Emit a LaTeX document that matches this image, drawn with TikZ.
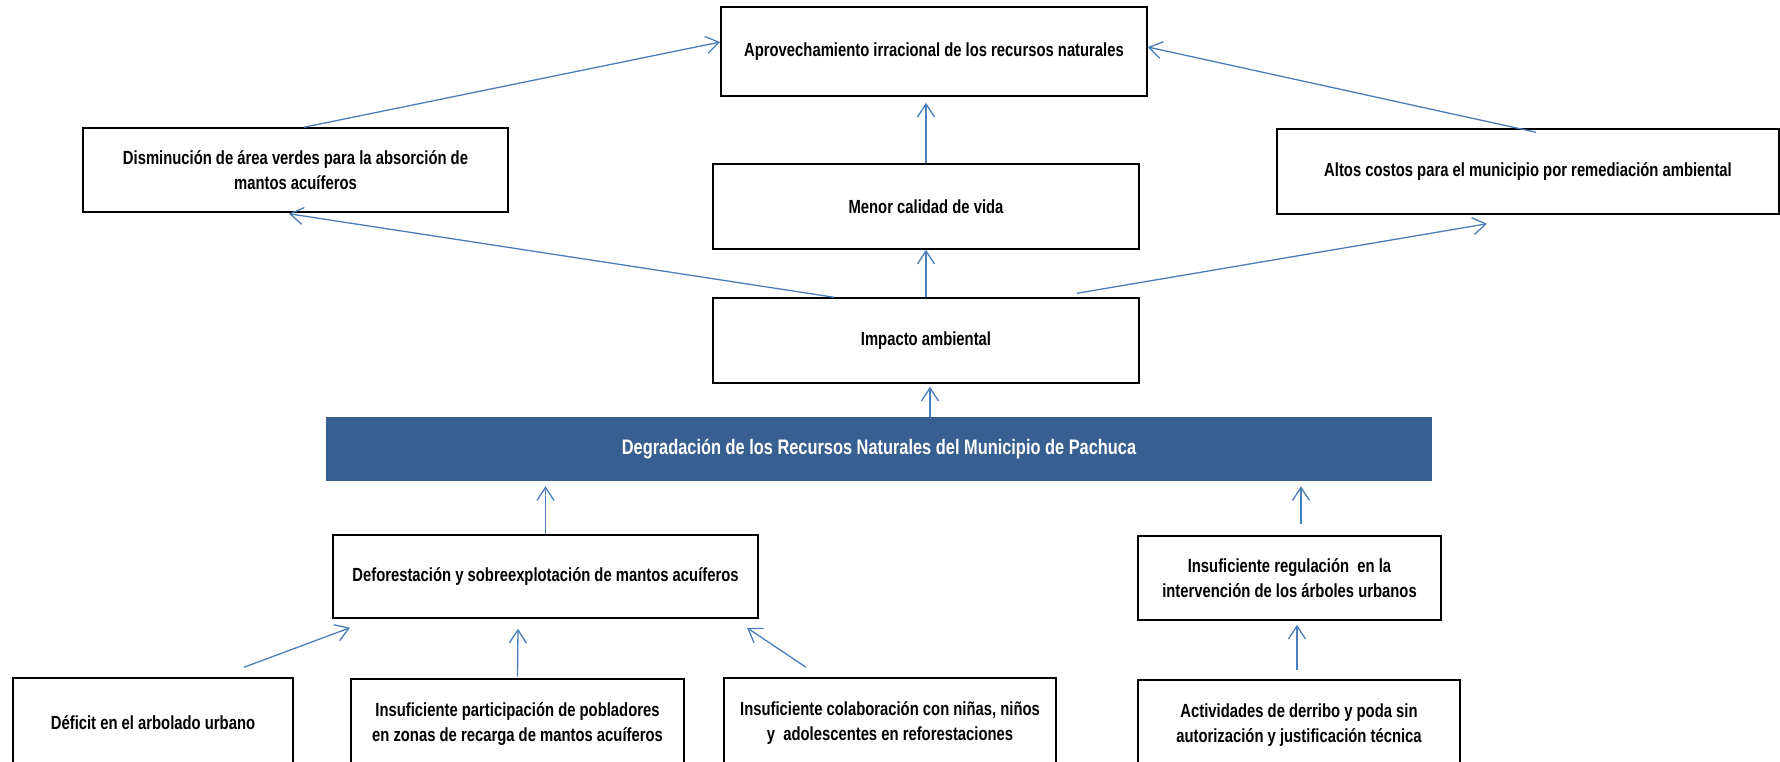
\documentclass[tikz,border=0pt]{standalone}
\usepackage{fontspec}
\setmainfont[FakeStretch=0.78]{Liberation Sans}
\usetikzlibrary{arrows.meta}
\definecolor{barblue}{RGB}{55,96,145}
\definecolor{lineblue}{RGB}{74,126,187}

\begin{document}
\begin{tikzpicture}[
			x=1pt, y=-1pt
			,every node/.append style={font=\fontsize{19}{24.5}\selectfont\bfseries, align=center, inner sep=0pt}
			,box/.style={draw=black, line width=1.5pt, fill=white, minimum width=#1}
			,box/.default=426pt
			,core/.style={fill=barblue, text=white, minimum width=1106pt, minimum height=64pt, font=\fontsize{21}{24}\selectfont\bfseries}
			,arr/.style={draw=lineblue, line width=1.3pt, -{Straight Barb[length=13pt,width=17pt]}}
		]
			\useasboundingbox (0,0) rectangle (1780,761);
			\clip (0,0) rectangle (1780,761);
			% efectos
			\node [box, minimum height=89pt] (aprov) at (934,51.5) {Aprovechamiento irracional de los recursos naturales};
			\node [box=425pt, minimum height=84pt] (dism) at (295.5,170) {Disminución de área verdes para la absorción de\\mantos acuíferos};
			\node [box=502pt, minimum height=85pt] (altos) at (1528,171.5) {Altos costos para el municipio por remediación ambiental};
			\node [box, minimum height=85pt] (menor) at (926,206.5) {Menor calidad de vida};
			\node [box, minimum height=85pt] (impacto) at (926,340.5) {Impacto ambiental};
			% problema central
			\node [core] (degr) at (879,449) {Degradación de los Recursos Naturales del Municipio de Pachuca};
			% causas
			\node [box=425pt, minimum height=83pt] (defor) at (545.5,576.5) {Deforestación y sobreexplotación de mantos acuíferos};
			\node [box=303pt, minimum height=84pt] (regul) at (1289.5,578) {Insuficiente regulación \ en la\\intervención de los árboles urbanos};
			\node [box=280pt, minimum height=90pt] (deficit) at (153,723) {Déficit en el arbolado urbano};
			\node [box=333pt, minimum height=90pt] (partic) at (517.5,724) {Insuficiente participación de pobladores\\en zonas de recarga de mantos acuíferos};
			\node [box=332pt, minimum height=90pt] (colab) at (890,723) {Insuficiente colaboración con niñas, niños\\y \ adolescentes en reforestaciones};
			\node [box=322pt, minimum height=90pt] (activ) at (1299,725) {Actividades de derribo y poda sin\\autorización y justificación técnica};

			\draw [arr] ([xshift=8.5pt]dism.north) -- ([yshift=9.5pt]aprov.west);
			\draw [arr] ([xshift=8pt,yshift=-4pt]altos.north) -- ([yshift=4.5pt]aprov.east);
			\draw [arr] (menor.north) -- ([yshift=-6pt]menor.north |- aprov.south);
			\draw [arr] (impacto.north) -- (menor.south);
			\draw [arr] ([xshift=-92pt]impacto.north) -- ([xshift=-6.5pt,yshift=-1pt]dism.south);
			\draw [arr] ([xshift=151pt,yshift=4pt]impacto.north) -- ([xshift=-41pt,yshift=-9pt]altos.south);
			\draw [arr] ([xshift=51pt]degr.north) -- ([xshift=4pt,yshift=-3pt]impacto.south);
			\draw [arr] (defor.north) -- ([yshift=-5pt]defor.north |- degr.south);
			\draw [arr] ([xshift=11.5pt,yshift=11pt]regul.north) -- ([xshift=11.5pt,yshift=-5pt]regul.north |- degr.south);
			\draw [arr] ([xshift=-2pt,yshift=9pt]activ.north) -- ([xshift=7.5pt,yshift=-4pt]regul.south);
			\draw [arr] ([xshift=91pt,yshift=10pt]deficit.north) -- ([xshift=-195.5pt,yshift=-9pt]defor.south);
			\draw [arr] ([yshift=2pt]partic.north) -- ([xshift=-27.5pt,yshift=-10pt]defor.south);
			\draw [arr] ([xshift=-84pt,yshift=10pt]colab.north) -- ([xshift=201.5pt,yshift=-9pt]defor.south);
		\end{tikzpicture}
\end{document}
